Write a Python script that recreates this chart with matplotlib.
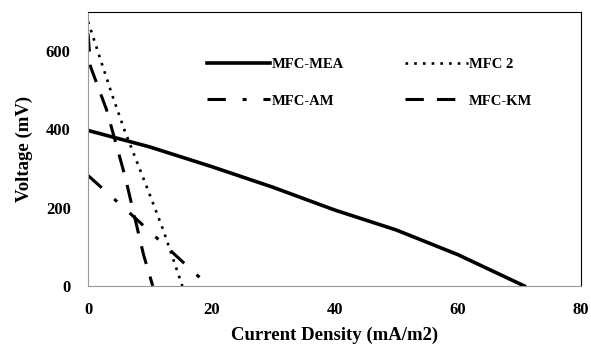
import matplotlib
matplotlib.use("Agg")
import matplotlib.pyplot as plt

# curve readings (current density mA/m2, voltage mV)
mea_x = [0, 10, 20, 30, 40, 50, 60, 70.8]
mea_y = [397, 355, 305, 252, 194, 143, 80, 0]

mfc2_x = [0, 3.9, 6, 9.6, 12.2, 15.3]
mfc2_y = [675, 488, 394, 250, 143, 0]

am_x = [0, 6.5, 19.6]
am_y = [282, 190, 0]

km_x = [0, 0.4, 3, 6, 9, 10.5]
km_y = [645, 560, 450, 280, 80, 0]

xticks = [0, 20, 40, 60, 80]
yticks = [0, 200, 400, 600]

plt.rcParams['font.family'] = ['Liberation Serif', 'DejaVu Serif']
plt.rcParams['font.weight'] = 'bold'

fig = plt.figure(figsize=(5.91, 3.47), dpi=100)
ax = fig.add_axes([0.149, 0.176, 0.834, 0.790])

l_mea, = ax.plot(mea_x, mea_y, color='black', lw=2.6)
l_2, = ax.plot(mfc2_x, mfc2_y, color='black', lw=1.9, linestyle=(0, (1, 2.3)))
l_am, = ax.plot(am_x, am_y, color='black', lw=2.2, linestyle=(0, (6, 5.5, 1.3, 5.5)))
l_km, = ax.plot(km_x, km_y, color='black', lw=2.2, linestyle=(0, (6, 4.3)))

ax.set_xlim(0, 80)
ax.set_ylim(0, 700)
ax.set_xticks(xticks)
ax.set_yticks(yticks)
ax.tick_params(length=0, labelsize=12)
ax.tick_params(axis='x', pad=11.5)
ax.tick_params(axis='y', pad=12.5)
for lab in ax.get_xticklabels() + ax.get_yticklabels():
    lab.set_fontweight('bold')

for s in ['left', 'bottom']:
    ax.spines[s].set_color('#9a9a9a')
for s in ['top', 'right']:
    ax.spines[s].set_color('black')

ax.set_xlabel('Current Density (mA/m2)', fontsize=13.5, fontweight='bold', labelpad=6)
ax.set_ylabel('Voltage (mV)', fontsize=13.5, fontweight='bold', labelpad=9)

# columns fill first, so order gives rows MEA/MFC 2 and AM/KM
ax.legend([l_mea, l_am, l_2, l_km], ['MFC-MEA', 'MFC-AM', 'MFC 2', 'MFC-KM'],
          ncol=2, frameon=False, loc='upper left', bbox_to_anchor=(0.215, 0.88),
          handlelength=4.3, handletextpad=0.1, columnspacing=4.2,
          labelspacing=1.6, prop={'size': 10.5, 'weight': 'bold'})

fig.savefig('out.png', dpi=100)
